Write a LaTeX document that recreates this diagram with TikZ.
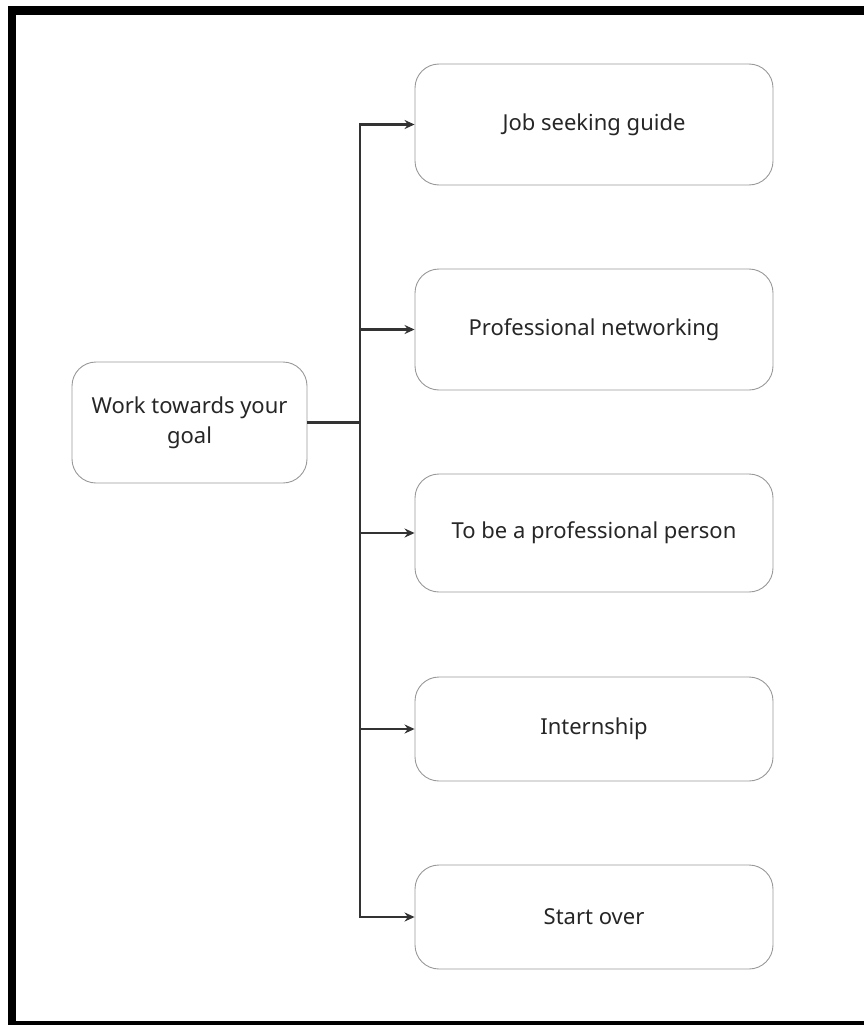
\documentclass[tikz,border=0pt]{standalone}
\usepackage{fontspec}
\setmainfont{Noto Sans}
\usepackage{xcolor}
\usetikzlibrary{arrows.meta,
	positioning,
	calc}

\tikzset{
	goalbox/.style={draw=black!40, line width=0.9pt, rounded corners=24pt, fill=white,
		text=black!85, align=center, font=\fontsize{22}{30}\selectfont},
	conn/.style={draw=black!80, line width=2.2pt, -{Stealth[length=10pt,width=9pt]}}
}

\begin{document}
\begin{tikzpicture}[x=1pt, y=-1pt]
	\useasboundingbox (0,0) rectangle (864,1025);
	\draw[line width=8.5pt] (12,10.5) rectangle (880,1025);

	\node (goal) [goalbox, minimum width=235pt, minimum height=121pt] at (189.5,422.5) {Work towards your\\goal};
	\node (job) [goalbox, minimum width=358pt, minimum height=121pt] at (594,124.5) {Job seeking guide};
	\node (network) [goalbox, minimum width=358pt, minimum height=121pt] at (594,329.5) {Professional networking};
	\node (person) [goalbox, minimum width=358pt, minimum height=118pt] at (594,533) {To be a professional person};
	\node (intern) [goalbox, minimum width=358pt, minimum height=104pt] at (594,729) {Internship};
	\node (over) [goalbox, minimum width=358pt, minimum height=104pt] at (594,917) {Start over};

	\coordinate (bus) at (360,422.5);
	\foreach \dest in {job,network,person,intern,over}
		\draw[conn] (goal.east) -- (bus) |- (\dest.west);
\end{tikzpicture}
\end{document}
